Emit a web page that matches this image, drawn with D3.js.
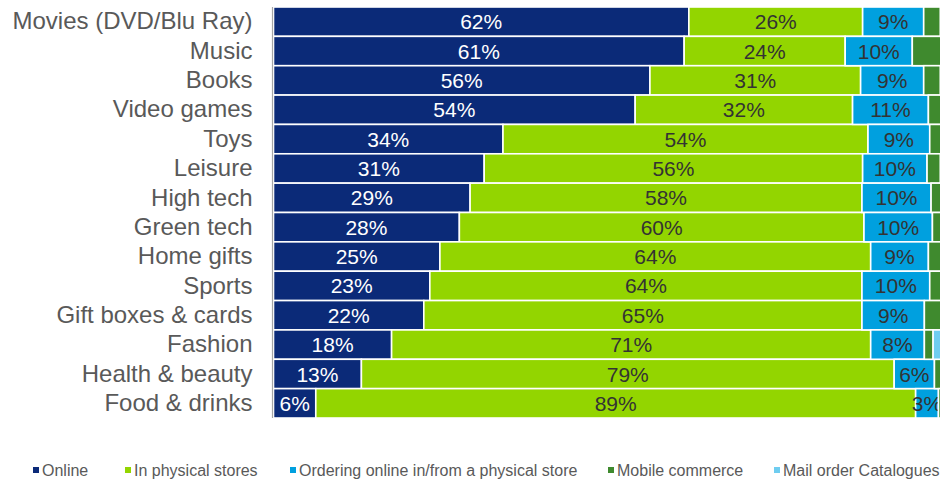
<!DOCTYPE html>
<html>
<head>
<meta charset="utf-8">
<script src="https://cdn.jsdelivr.net/npm/d3@7"></script>
<style>
  body { margin: 0; background: #fff; }
  svg { display: block; font-family: "Liberation Sans", Arial, sans-serif; }
</style>
</head>
<body>
<div id="showBox"></div>
<script>
// shares per category (%)
const categories = ["Movies (DVD/Blu Ray)", "Music", "Books", "Video games", "Toys", "Leisure",
    "High tech", "Green tech", "Home gifts", "Sports", "Gift boxes & cards", "Fashion",
    "Health & beauty", "Food & drinks"]
const online = [61.9, 61.2, 56.1, 53.9, 34.2, 31.4, 29.3, 27.7, 24.8, 23.3, 22.4, 17.6, 13.1, 6.3]
const physical = [25.9, 24.0, 31.4, 32.4, 54.4, 56.4, 58.4, 60.3, 64.2, 64.4, 65.3, 71.4, 79.4, 89.4]
const ordering = [9.1, 10.0, 9.4, 11.3, 9.2, 9.6, 10.3, 10.2, 8.6, 10.1, 9.3, 8.0, 6.0, 3.4]
const mobile = [2.5, 4.5, 2.5, 2.0, 1.8, 2.0, 1.5, 1.4, 2.0, 1.8, 2.5, 1.3, 1.2, 0.6]
const mailOrder = [0.5, 0.3, 0.6, 0.4, 0.4, 0.6, 0.5, 0.4, 0.4, 0.4, 0.5, 1.7, 0.3, 0.3]

const seriesNames = ["Online", "In physical stores", "Ordering online in/from a physical store",
    "Mobile commerce", "Mail order Catalogues"]
const seriesColors = ["#0b2a78", "#93d500", "#00a0df", "#3f8a2e", "#6fcdf0"]
const labelled = [true, true, true, false, false]

const width = 940, height = 480

const rows = categories.map((c, i) => ({
    cat: c, s0: online[i], s1: physical[i], s2: ordering[i], s3: mobile[i], s4: mailOrder[i]
}))
const keys = ["s0", "s1", "s2", "s3", "s4"]
const stacked = d3.stack().keys(keys)(rows)

const x = d3.scaleLinear().domain([0, 100]).range([273.5, 944.5])
const y = d3.scaleBand().domain(categories).range([7, 418])

const svg = d3.select("#showBox").append("svg")
    .attr("width", width)
    .attr("height", height)

const layers = svg.append("g")
    .selectAll("g")
    .data(stacked)
    .join("g")
    .attr("fill", (d, i) => seriesColors[i])

layers.selectAll("rect")
    .data(d => d)
    .join("rect")
    .attr("x", d => x(d[0]))
    .attr("y", d => y(d.data.cat))
    .attr("width", d => x(d[1]) - x(d[0]))
    .attr("height", y.bandwidth())
    .attr("stroke", "#fff")
    .attr("stroke-width", 1.6)

// value labels
layers.filter((d, i) => labelled[i])
    .selectAll("text")
    .data(d => d)
    .join("text")
    .attr("x", d => (x(d[0]) + x(d[1])) / 2)
    .attr("y", d => y(d.data.cat) + y.bandwidth() / 2)
    .attr("dy", "0.36em")
    .attr("text-anchor", "middle")
    .attr("font-size", 21)
    .attr("fill", function () {
        return d3.select(this.parentNode).datum().key === "s0" ? "#ffffff" : "#333333"
    })
    .text(d => Math.round(d[1] - d[0]) + "%")

// category axis
const yAxis = svg.append("g")
    .attr("transform", "translate(272.5,0)")
    .call(d3.axisLeft(y).tickSize(0).tickPadding(20))
yAxis.select(".domain").attr("stroke", "#a6a6a6").attr("stroke-width", 1.2)
    .attr("d", `M0,${y.range()[0]}V${y.range()[1]}`)
yAxis.selectAll("text")
    .attr("font-size", 24)
    .attr("font-family", "Liberation Sans, Arial, sans-serif")
    .attr("fill", "#595959")

// legend
const legendX = [33, 125, 290, 608, 774]
const legend = svg.append("g")
    .selectAll("g")
    .data(seriesNames)
    .join("g")
    .attr("transform", (d, i) => `translate(${legendX[i]},470)`)
legend.append("rect")
    .attr("x", 0).attr("y", -3)
    .attr("width", 6).attr("height", 6)
    .attr("fill", (d, i) => seriesColors[i])
legend.append("text")
    .attr("x", 9)
    .attr("dy", "0.36em")
    .attr("font-size", 16)
    .attr("fill", "#595959")
    .text(d => d)
</script>
</body>
</html>
